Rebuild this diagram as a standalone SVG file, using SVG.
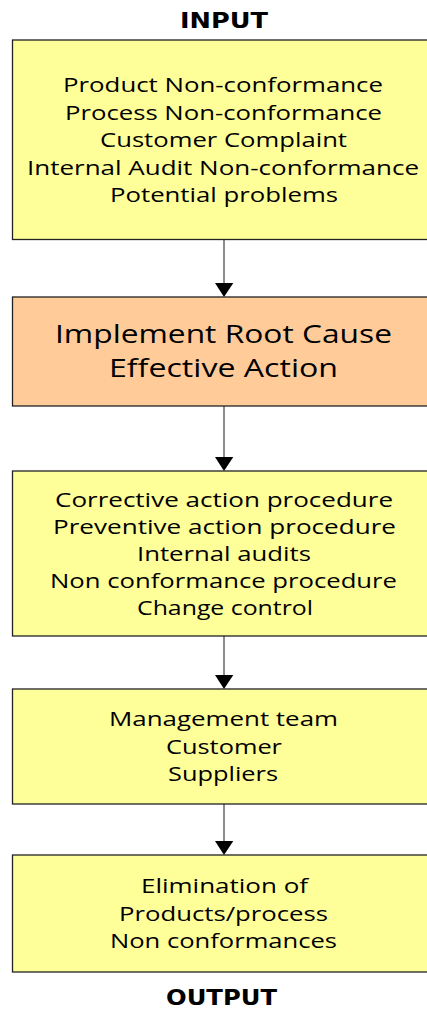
<svg xmlns="http://www.w3.org/2000/svg" width="427" height="1009" viewBox="0 0 427 1009">
<style>
.box{fill:#FFFF99;stroke:#222;stroke-width:1.3}
.box2{fill:#FFCC99;stroke:#222;stroke-width:1.3}
.t{font-family:"Open Sans","Liberation Sans",sans-serif;font-size:19.5px;fill:#000;text-anchor:middle}
.tb{font-family:"Open Sans","Liberation Sans",sans-serif;font-size:25.5px;fill:#000;text-anchor:middle}
.h{font-family:"DejaVu Sans","Liberation Sans",sans-serif;font-weight:bold;font-size:21px;fill:#000;text-anchor:middle}
.c{stroke:#505050;stroke-width:1.3;fill:none}
</style>
<text class="h" x="224" y="28.3" textLength="88" lengthAdjust="spacingAndGlyphs">INPUT</text>
<g id="connectors">
<line class="c" x1="224" y1="239.5" x2="224" y2="283"/>
<path d="M215,283 L233.3,283 L224,297 Z" fill="#000"/>
<line class="c" x1="224" y1="406" x2="224" y2="457"/>
<path d="M215,457 L233.3,457 L224,471 Z" fill="#000"/>
<line class="c" x1="224" y1="636" x2="224" y2="675"/>
<path d="M215,675 L233.3,675 L224,689 Z" fill="#000"/>
<line class="c" x1="224" y1="804" x2="224" y2="841"/>
<path d="M215,841 L233.3,841 L224,855 Z" fill="#000"/>
</g>
<g id="n1">
<rect class="box" x="12.5" y="40" width="430" height="199.5"/>
<text class="t" x="223" y="92" textLength="320" lengthAdjust="spacingAndGlyphs">Product Non-conformance</text>
<text class="t" x="223.5" y="119.5" textLength="317" lengthAdjust="spacingAndGlyphs">Process Non-conformance</text>
<text class="t" x="223.5" y="147" textLength="247" lengthAdjust="spacingAndGlyphs">Customer Complaint</text>
<text class="t" x="223" y="174.5" textLength="392" lengthAdjust="spacingAndGlyphs">Internal Audit Non-conformance</text>
<text class="t" x="224" y="202" textLength="228" lengthAdjust="spacingAndGlyphs">Potential problems</text>
</g>
<g id="n2">
<rect class="box2" x="12.5" y="297" width="430" height="109"/>
<text class="tb" x="223.5" y="343" textLength="337" lengthAdjust="spacingAndGlyphs">Implement Root Cause</text>
<text class="tb" x="223.5" y="377" textLength="229" lengthAdjust="spacingAndGlyphs">Effective Action</text>
</g>
<g id="n3">
<rect class="box" x="12.5" y="471" width="430" height="165"/>
<text class="t" x="224" y="507" textLength="338" lengthAdjust="spacingAndGlyphs">Corrective action procedure</text>
<text class="t" x="224.5" y="534" textLength="343" lengthAdjust="spacingAndGlyphs">Preventive action procedure</text>
<text class="t" x="224" y="561" textLength="174" lengthAdjust="spacingAndGlyphs">Internal audits</text>
<text class="t" x="223.5" y="588" textLength="347" lengthAdjust="spacingAndGlyphs">Non conformance procedure</text>
<text class="t" x="225" y="615" textLength="176" lengthAdjust="spacingAndGlyphs">Change control</text>
</g>
<g id="n4">
<rect class="box" x="12.5" y="689" width="430" height="115"/>
<text class="t" x="223.5" y="726" textLength="229" lengthAdjust="spacingAndGlyphs">Management team</text>
<text class="t" x="224" y="754" textLength="116" lengthAdjust="spacingAndGlyphs">Customer</text>
<text class="t" x="223" y="781" textLength="110" lengthAdjust="spacingAndGlyphs">Suppliers</text>
</g>
<g id="n5">
<rect class="box" x="12.5" y="855" width="430" height="117"/>
<text class="t" x="224.5" y="893" textLength="167" lengthAdjust="spacingAndGlyphs">Elimination of</text>
<text class="t" x="223.5" y="921" textLength="209" lengthAdjust="spacingAndGlyphs">Products/process</text>
<text class="t" x="223.5" y="948" textLength="227" lengthAdjust="spacingAndGlyphs">Non conformances</text>
</g>
<text class="h" x="221.5" y="1004.5" textLength="111" lengthAdjust="spacingAndGlyphs">OUTPUT</text>
</svg>
